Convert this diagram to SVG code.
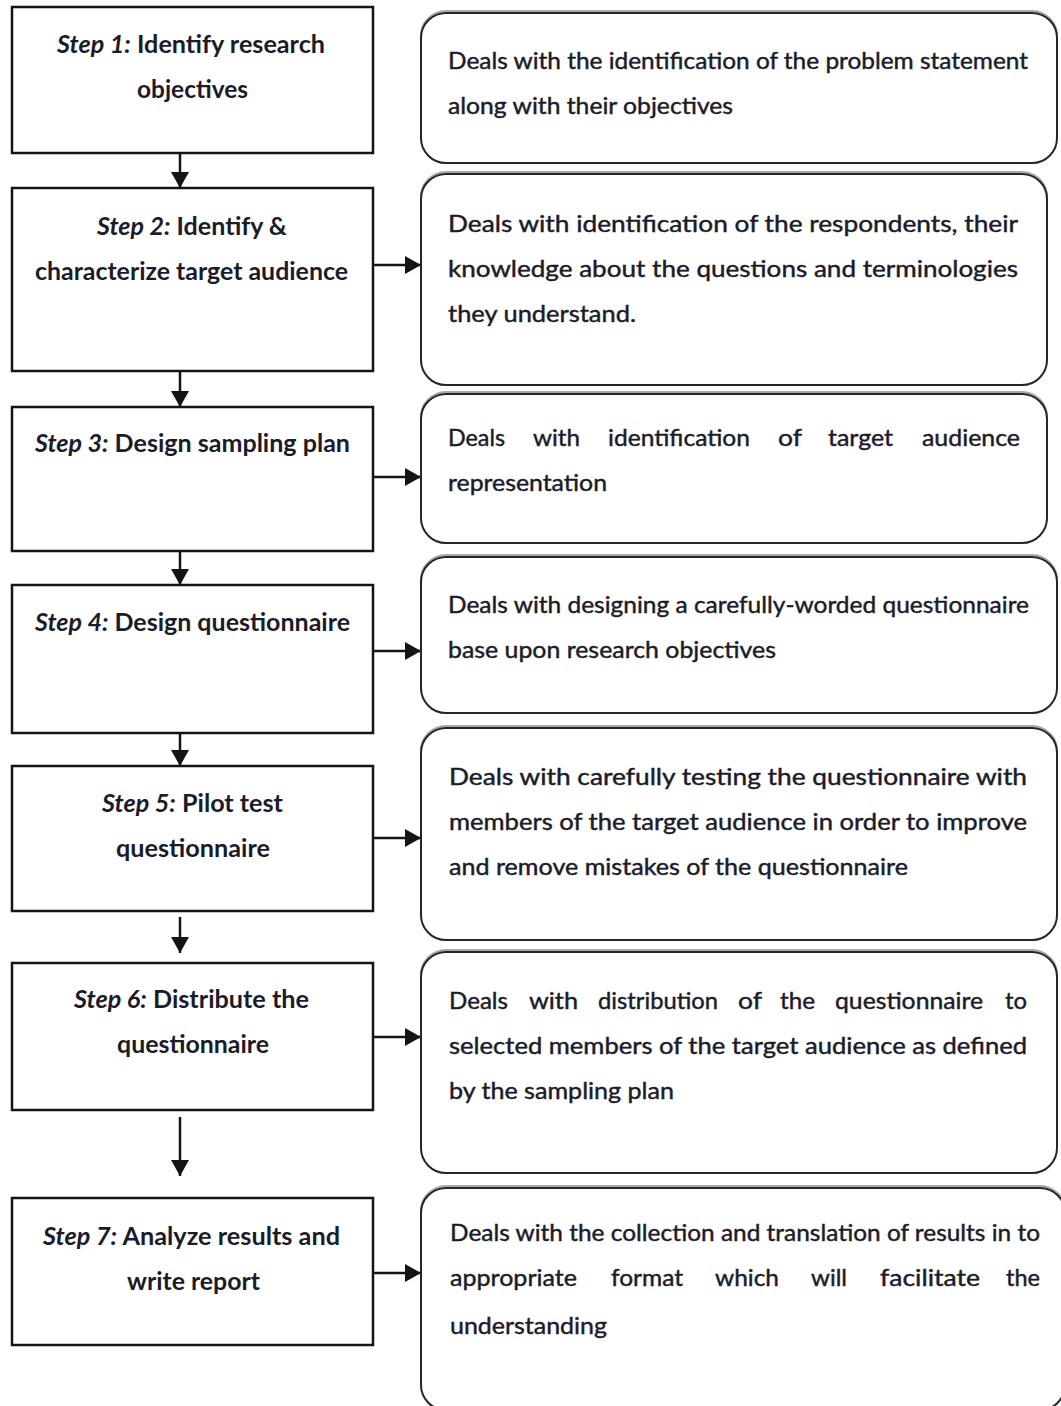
<svg xmlns="http://www.w3.org/2000/svg" width="1061" height="1406" viewBox="0 0 1061 1406">
  <style>
    .step { fill: #fff; stroke: #141414; stroke-width: 2.5; }
    .desc { fill: #fff; stroke: #262626; stroke-width: 2; }
    .desc-shade { fill: none; stroke: #a8a8a8; stroke-width: 2; }
    .lt { font-family: Lato, Carlito, "Liberation Sans", sans-serif; font-size: 25px; font-weight: bold; fill: #1b1b2a; }
    .rt { font-family: Lato, Carlito, "Liberation Sans", sans-serif; font-size: 24px; font-weight: normal; fill: #1b1b2a; stroke: #1b1b2a; stroke-width: 0.45; }
    .it { font-style: italic; }
    .conn { stroke: #141414; stroke-width: 2.5; fill: none; marker-end: url(#head); }
  </style>
  <defs>
    <marker id="head" markerUnits="userSpaceOnUse" markerWidth="16" markerHeight="18" refX="16" refY="9" orient="auto">
      <path d="M0,0 L16,9 L0,18 z" fill="#141414"/>
    </marker>
  </defs>

  <rect width="1061" height="1406" fill="#fff"/>

  <!-- connectors -->
  <g id="connectors">
    <line class="conn" x1="180" y1="153" x2="180" y2="188"/>
    <line class="conn" x1="180" y1="371" x2="180" y2="407"/>
    <line class="conn" x1="180" y1="551" x2="180" y2="585"/>
    <line class="conn" x1="180" y1="733" x2="180" y2="766"/>
    <line class="conn" x1="180" y1="917" x2="180" y2="953"/>
    <line class="conn" x1="180" y1="1117" x2="180" y2="1176"/>
    <line class="conn" x1="373" y1="265" x2="421" y2="265"/>
    <line class="conn" x1="373" y1="477" x2="421" y2="477"/>
    <line class="conn" x1="373" y1="651" x2="421" y2="651"/>
    <line class="conn" x1="373" y1="838" x2="421" y2="838"/>
    <line class="conn" x1="373" y1="1037" x2="421" y2="1037"/>
    <line class="conn" x1="373" y1="1273" x2="421" y2="1273"/>
  </g>

  <!-- step boxes -->
  <g id="step1">
    <rect class="step" x="12" y="7" width="361" height="146"/>
    <text class="lt" x="57" y="53" textLength="268" lengthAdjust="spacingAndGlyphs"><tspan class="it">Step 1:</tspan> Identify research</text>
    <text class="lt" x="137" y="98" textLength="111" lengthAdjust="spacingAndGlyphs">objectives</text>
  </g>
  <g id="step2">
    <rect class="step" x="12" y="188" width="361" height="183"/>
    <text class="lt" x="97" y="235" textLength="190" lengthAdjust="spacingAndGlyphs"><tspan class="it">Step 2:</tspan> Identify &amp;</text>
    <text class="lt" x="35" y="280" textLength="313" lengthAdjust="spacingAndGlyphs">characterize target audience</text>
  </g>
  <g id="step3">
    <rect class="step" x="12" y="407" width="361" height="144"/>
    <text class="lt" x="35" y="452" textLength="315" lengthAdjust="spacingAndGlyphs"><tspan class="it">Step 3:</tspan> Design sampling plan</text>
  </g>
  <g id="step4">
    <rect class="step" x="12" y="585" width="361" height="148"/>
    <text class="lt" x="35" y="631" textLength="315" lengthAdjust="spacingAndGlyphs"><tspan class="it">Step 4:</tspan> Design questionnaire</text>
  </g>
  <g id="step5">
    <rect class="step" x="12" y="766" width="361" height="145"/>
    <text class="lt" x="102" y="812" textLength="181" lengthAdjust="spacingAndGlyphs"><tspan class="it">Step 5:</tspan> Pilot test</text>
    <text class="lt" x="116" y="857" textLength="154" lengthAdjust="spacingAndGlyphs">questionnaire</text>
  </g>
  <g id="step6">
    <rect class="step" x="12" y="963" width="361" height="147"/>
    <text class="lt" x="74" y="1008" textLength="235" lengthAdjust="spacingAndGlyphs"><tspan class="it">Step 6:</tspan> Distribute the</text>
    <text class="lt" x="117" y="1053" textLength="152" lengthAdjust="spacingAndGlyphs">questionnaire</text>
  </g>
  <g id="step7">
    <rect class="step" x="12" y="1198" width="361" height="147"/>
    <text class="lt" x="43" y="1245" textLength="297" lengthAdjust="spacingAndGlyphs"><tspan class="it">Step 7:</tspan> Analyze results and</text>
    <text class="lt" x="127" y="1290" textLength="133" lengthAdjust="spacingAndGlyphs">write report</text>
  </g>

  <!-- description boxes -->
  <g id="desc1">
    <rect class="desc-shade" x="421" y="11" width="636" height="150" rx="25"/>
    <rect class="desc" x="421" y="13" width="636" height="150" rx="25"/>
    <text class="rt" x="448" y="69" textLength="580" lengthAdjust="spacingAndGlyphs">Deals with the identification of the problem statement</text>
    <text class="rt" x="448" y="114" textLength="285" lengthAdjust="spacingAndGlyphs">along with their objectives</text>
  </g>
  <g id="desc2">
    <rect class="desc-shade" x="421" y="172" width="626" height="211" rx="25"/>
    <rect class="desc" x="421" y="174" width="626" height="211" rx="25"/>
    <text class="rt" x="448" y="232" textLength="570" lengthAdjust="spacingAndGlyphs">Deals with identification of the respondents, their</text>
    <text class="rt" x="448" y="277" textLength="570" lengthAdjust="spacingAndGlyphs">knowledge about the questions and terminologies</text>
    <text class="rt" x="448" y="322" textLength="188" lengthAdjust="spacingAndGlyphs">they understand.</text>
  </g>
  <g id="desc3">
    <rect class="desc-shade" x="421" y="392" width="626" height="149" rx="25"/>
    <rect class="desc" x="421" y="394" width="626" height="149" rx="25"/>
    <text class="rt" x="448" y="446" textLength="57" lengthAdjust="spacingAndGlyphs">Deals</text>
    <text class="rt" x="533" y="446" textLength="47" lengthAdjust="spacingAndGlyphs">with</text>
    <text class="rt" x="608" y="446" textLength="142" lengthAdjust="spacingAndGlyphs">identification</text>
    <text class="rt" x="778" y="446" textLength="24" lengthAdjust="spacingAndGlyphs">of</text>
    <text class="rt" x="828" y="446" textLength="65" lengthAdjust="spacingAndGlyphs">target</text>
    <text class="rt" x="922" y="446" textLength="98" lengthAdjust="spacingAndGlyphs">audience</text>
    <text class="rt" x="448" y="491" textLength="159" lengthAdjust="spacingAndGlyphs">representation</text>
  </g>
  <g id="desc4">
    <rect class="desc-shade" x="421" y="555" width="636" height="156" rx="25"/>
    <rect class="desc" x="421" y="557" width="636" height="156" rx="25"/>
    <text class="rt" x="448" y="613" textLength="581" lengthAdjust="spacingAndGlyphs">Deals with designing a carefully-worded questionnaire</text>
    <text class="rt" x="448" y="658" textLength="328" lengthAdjust="spacingAndGlyphs">base upon research objectives</text>
  </g>
  <g id="desc5">
    <rect class="desc-shade" x="421" y="726" width="636" height="212" rx="25"/>
    <rect class="desc" x="421" y="728" width="636" height="212" rx="25"/>
    <text class="rt" x="449" y="785" textLength="578" lengthAdjust="spacingAndGlyphs">Deals with carefully testing the questionnaire with</text>
    <text class="rt" x="449" y="830" textLength="578" lengthAdjust="spacingAndGlyphs">members of the target audience in order to improve</text>
    <text class="rt" x="449" y="875" textLength="459" lengthAdjust="spacingAndGlyphs">and remove mistakes of the questionnaire</text>
  </g>
  <g id="desc6">
    <rect class="desc-shade" x="421" y="950" width="636" height="221" rx="25"/>
    <rect class="desc" x="421" y="952" width="636" height="221" rx="25"/>
    <text class="rt" x="449" y="1009" textLength="59" lengthAdjust="spacingAndGlyphs">Deals</text>
    <text class="rt" x="529" y="1009" textLength="49" lengthAdjust="spacingAndGlyphs">with</text>
    <text class="rt" x="598" y="1009" textLength="120" lengthAdjust="spacingAndGlyphs">distribution</text>
    <text class="rt" x="738" y="1009" textLength="24" lengthAdjust="spacingAndGlyphs">of</text>
    <text class="rt" x="780" y="1009" textLength="35" lengthAdjust="spacingAndGlyphs">the</text>
    <text class="rt" x="835" y="1009" textLength="148" lengthAdjust="spacingAndGlyphs">questionnaire</text>
    <text class="rt" x="1005" y="1009" textLength="22" lengthAdjust="spacingAndGlyphs">to</text>
    <text class="rt" x="449" y="1054" textLength="578" lengthAdjust="spacingAndGlyphs">selected members of the target audience as defined</text>
    <text class="rt" x="449" y="1099" textLength="225" lengthAdjust="spacingAndGlyphs">by the sampling plan</text>
  </g>
  <g id="desc7">
    <rect class="desc-shade" x="421" y="1186" width="644" height="222" rx="25"/>
    <rect class="desc" x="421" y="1188" width="644" height="222" rx="25"/>
    <text class="rt" x="450" y="1241" textLength="590" lengthAdjust="spacingAndGlyphs">Deals with the collection and translation of results in to</text>
    <text class="rt" x="450" y="1286" textLength="127" lengthAdjust="spacingAndGlyphs">appropriate</text>
    <text class="rt" x="611" y="1286" textLength="72" lengthAdjust="spacingAndGlyphs">format</text>
    <text class="rt" x="715" y="1286" textLength="64" lengthAdjust="spacingAndGlyphs">which</text>
    <text class="rt" x="811" y="1286" textLength="36" lengthAdjust="spacingAndGlyphs">will</text>
    <text class="rt" x="880" y="1286" textLength="100" lengthAdjust="spacingAndGlyphs">facilitate</text>
    <text class="rt" x="1006" y="1286" textLength="34" lengthAdjust="spacingAndGlyphs">the</text>
    <text class="rt" x="450" y="1334" textLength="157" lengthAdjust="spacingAndGlyphs">understanding</text>
  </g>
</svg>
